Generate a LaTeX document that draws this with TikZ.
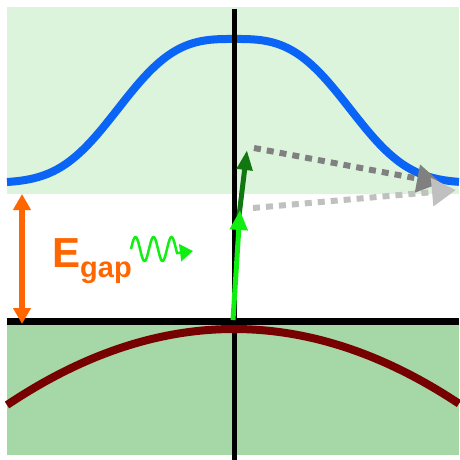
\documentclass[tikz,border=0pt]{standalone}
\usepackage{fontspec}
\setmainfont{Liberation Sans}
\usetikzlibrary{arrows.meta}
\definecolor{bandTop}{HTML}{DCF3DC}
\definecolor{bandBot}{HTML}{A6D7A6}
\definecolor{condBlue}{HTML}{0A64F5}
\definecolor{valRed}{HTML}{770000}
\definecolor{gapOrange}{HTML}{FF6600}
\definecolor{photonGreen}{HTML}{11EE11}
\definecolor{phononGreen}{HTML}{117711}
\definecolor{scatDark}{HTML}{808080}
\definecolor{scatLight}{HTML}{C0C0C0}

\begin{document}
\begin{tikzpicture}[x=1pt, y=-1pt,
    band/.style={line width=8pt},
    axisline/.style={black, line width=5pt},
    jump/.style={line width=5pt, -{Triangle[length=20pt, width=15pt]}},
    scatter/.style={line width=6pt, dash pattern=on 7pt off 6pt,
                    -{Triangle[length=24pt, width=27pt]}},
    lbl/.style={font=\fontsize{42}{42}\selectfont\bfseries, text=gapOrange,
                inner sep=0pt},
  ]
    \useasboundingbox (0,0) rectangle (459,460);

    % Bandas
    \fill[bandTop] (7,7) rectangle (459,194);
    \fill[bandBot] (7,325) rectangle (459,455);
    \draw[band, condBlue] plot[domain=7:459, samples=120, smooth]
      (\x, {183 - 144*exp(-((\x-234)/133)^2*abs((\x-234)/133))});

    % Ejes
    \coordinate (vtop) at (234.5,9);
    \coordinate (vbot) at (234.5,460);
    \coordinate (hl) at (7,321.5);
    \coordinate (hr) at (459,321.5);
    \draw[axisline] (vtop) -- (vbot);
    \draw[line width=7pt] (hl) -- (hr);
    \draw[band, valRed] plot[domain=7:459, samples=80, smooth]
      (\x, {329 + 76*((\x-234)/227)^2});

    % Gap
    \coordinate (gtop) at (22,194);
    \coordinate (gbot) at (22,324);
    \draw[gapOrange, line width=5.5pt,
          {Triangle[length=16pt, width=17pt]}-{Triangle[length=16pt, width=17pt]}]
      (gtop) -- (gbot);
    \node[lbl, anchor=base west] (egap) at (52,267)
      {E\raisebox{-10pt}{\fontsize{29}{29}\selectfont gap}};

    % Foton
    \coordinate (wtip) at (193,251);
    \draw[photonGreen, line width=2.5pt, -{Triangle[length=13pt, width=17pt]}]
      plot[domain=131:177, samples=60, smooth] (\x, {249 - 12*sin((\x-131)*20)})
      -- (wtip);

    % Transiciones
    \coordinate (k0) at (233,320);
    \coordinate (k1) at (240,210);
    \coordinate (k1b) at (239,216);
    \coordinate (k2) at (247,150);
    \draw[jump, phononGreen] (k1b) -- (k2);
    \draw[jump, photonGreen, -{Triangle[length=20pt, width=17pt]}] (k0) -- (k1);

    % Dispersion
    \coordinate (sa) at (254,148);
    \coordinate (sb) at (441,183);
    \coordinate (sc) at (253,208);
    \coordinate (sd) at (456,190);
    \draw[scatter, scatDark] (sa) -- (sb);
    \draw[scatter, scatLight] (sc) -- (sd);
\end{tikzpicture}
\end{document}
